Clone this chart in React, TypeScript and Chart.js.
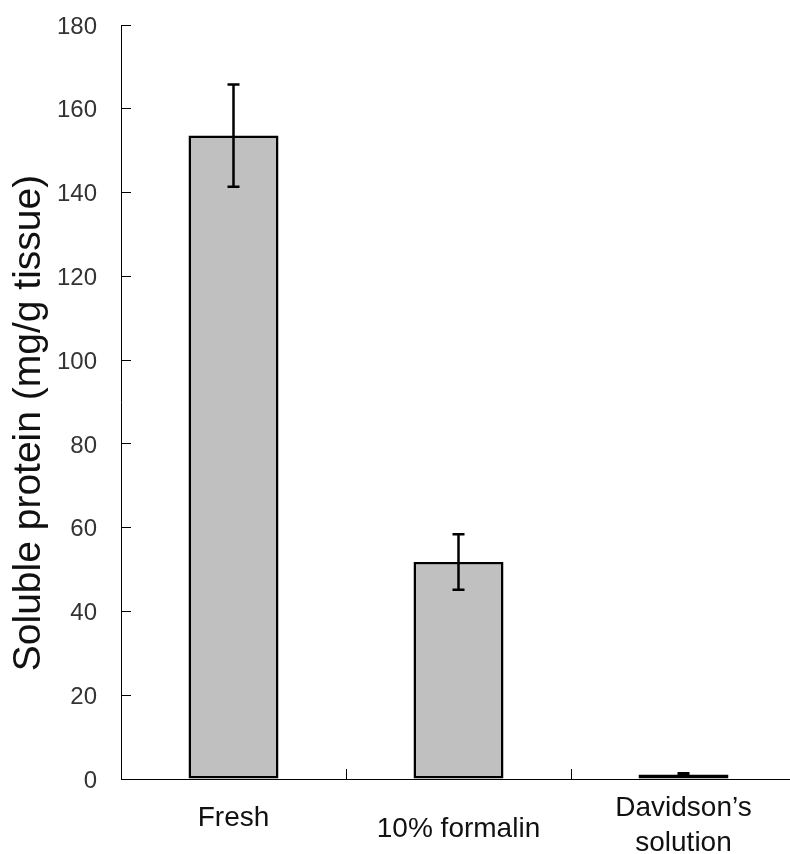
import React, { useEffect, useRef } from "react";
import { Chart, registerables } from "chart.js";

Chart.register(...registerables);

// ---- data ----
const categories: (string | string[])[] = ["Fresh", "10% formalin", ["Davidson\u2019s", "solution"]];
const values: number[] = [153.6, 51.8, 1.1];
const errors: number[] = [12.2, 6.6, 0.3];
const yMin = 0;
const yMax = 180;
const yStep = 20;
const yTitle = "Soluble protein (mg/g tissue)";

// per-label line heights (px) used to reproduce the staggered label placement
const xLineHeights: string[] = ["55px", "77px", "35px"];

const FONT = "'Liberation Sans', Arial, sans-serif";

const errorBarPlugin = {
  id: "errorBars",
  afterDatasetsDraw(chart: any) {
    const meta = chart.getDatasetMeta(0);
    const y = chart.scales.y;
    const ctx = chart.ctx;
    ctx.save();
    ctx.strokeStyle = "#000";
    ctx.lineWidth = 2.5;
    meta.data.forEach((bar: any, i: number) => {
      const x = bar.x;
      const top = y.getPixelForValue(values[i] + errors[i]);
      const bot = y.getPixelForValue(Math.max(values[i] - errors[i], 0));
      ctx.beginPath();
      ctx.moveTo(x, top);
      ctx.lineTo(x, bot);
      ctx.moveTo(x - 6, top);
      ctx.lineTo(x + 6, top);
      ctx.moveTo(x - 6, bot);
      ctx.lineTo(x + 6, bot);
      ctx.stroke();
    });
    ctx.restore();
  },
};

const yTitlePlugin = {
  id: "yTitle",
  afterDraw(chart: any) {
    const ctx = chart.ctx;
    ctx.save();
    ctx.translate(29, 423);
    ctx.rotate(-Math.PI / 2);
    ctx.textAlign = "center";
    ctx.textBaseline = "middle";
    ctx.fillStyle = "#111";
    ctx.font = `39px ${FONT}`;
    ctx.fillText(yTitle, 0, 0);
    ctx.restore();
  },
};

export default function App() {
  const ref = useRef<HTMLCanvasElement | null>(null);

  useEffect(() => {
    if (!ref.current) return;
    const chart = new Chart(ref.current, {
      type: "bar",
      data: {
        labels: categories as any,
        datasets: [
          {
            data: values,
            backgroundColor: "#c0c0c0",
            borderColor: "#000",
            borderWidth: 2.5,
            borderSkipped: false,
            barPercentage: 0.4,
            categoryPercentage: 1,
          },
        ],
      },
      options: {
        responsive: false,
        animation: false,
        devicePixelRatio: 1,
        layout: { padding: { left: 0, top: 25, right: 24, bottom: 0 } },
        plugins: {
          legend: { display: false },
          tooltip: { enabled: false },
          title: { display: false },
        },
        scales: {
          x: {
            offset: true,
            grid: {
              offset: true,
              drawOnChartArea: false,
              tickLength: -10,
              color: "#000",
              tickWidth: 1,
            },
            border: { color: "#000", width: 1 },
            ticks: {
              autoSkip: false,
              maxRotation: 0,
              minRotation: 0,
              padding: 21.5,
              color: "#111",
              font: (c: any) => ({ family: FONT, size: 28, lineHeight: xLineHeights[c.index] ?? "35px" }),
            },
            afterFit: (scale: any) => {
              scale.height = 854 - 779;
              scale.paddingLeft = 0;
              scale.paddingRight = 0;
            },
          },
          y: {
            min: yMin,
            max: yMax,
            grid: {
              drawOnChartArea: false,
              tickLength: -10,
              color: "#000",
              tickWidth: 1,
            },
            border: { color: "#000", width: 1 },
            ticks: {
              stepSize: yStep,
              padding: 34,
              labelOffset: 2,
              color: "#333",
              font: { family: FONT, size: 24 },
            },
            afterFit: (scale: any) => {
              scale.width = 121;
              scale.paddingTop = 0;
              scale.paddingBottom = 0;
            },
          },
        },
      },
      plugins: [errorBarPlugin, yTitlePlugin],
    });
    return () => chart.destroy();
  }, []);

  return (
    <div style={{ position: "absolute", left: 0, top: 0, width: 790, height: 854, overflow: "hidden", background: "#fff" }}>
      <canvas ref={ref} width={820} height={854} style={{ display: "block" }} />
    </div>
  );
}
